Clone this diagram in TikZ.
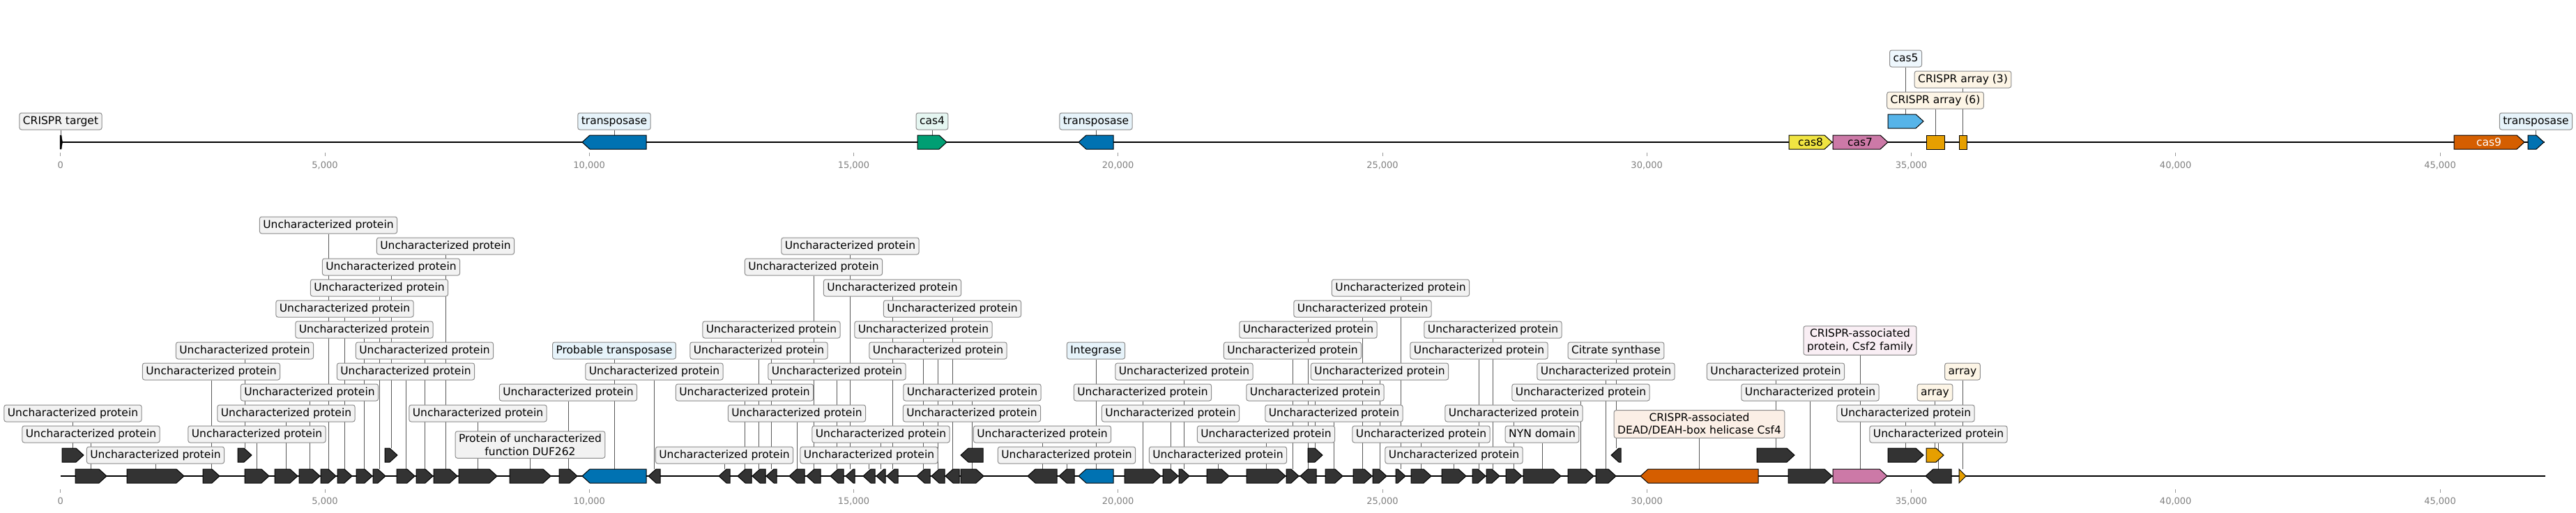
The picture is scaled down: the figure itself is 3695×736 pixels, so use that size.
\documentclass[tikz,border=0pt]{standalone}
\usepackage{fontspec}
\setmainfont{DejaVu Sans}
\usepackage{tikz}
\usetikzlibrary{backgrounds}
\definecolor{genedark}{HTML}{333333}
\definecolor{transblue}{HTML}{0072B2}
\definecolor{casgreen}{HTML}{009E73}
\definecolor{casyellow}{HTML}{F0E442}
\definecolor{caspink}{HTML}{CC79A7}
\definecolor{arrayorange}{HTML}{E69F00}
\definecolor{casred}{HTML}{D55E00}
\definecolor{cassky}{HTML}{56B4E9}
\definecolor{boxgrey}{HTML}{F2F2F2}
\definecolor{boxblue}{HTML}{E6F3FA}
\definecolor{boxgreen}{HTML}{E5F6F1}
\definecolor{boxsky}{HTML}{EEF7FD}
\definecolor{boxorange}{HTML}{FDF5E6}
\definecolor{boxred}{HTML}{FBEFE6}
\definecolor{boxpink}{HTML}{F9EEF4}
\newcommand{\headlen}{11}
\newcommand{\halfh}{10}
\newcommand{\lblfont}{\fontsize{15.5}{18.5}\selectfont}
\newcommand{\ticfont}{\fontsize{13}{15}\selectfont}
\newcommand{\fwdgene}[5]{%
\filldraw[gene, fill=#5] (#2,#4-\halfh) -- ({max(#2,#3-\headlen)},#4-\halfh) -- (#3,#4) -- ({max(#2,#3-\headlen)},#4+\halfh) -- (#2,#4+\halfh) -- cycle;
\coordinate (#1) at ({(#2+#3)/2},#4-\halfh);}
\newcommand{\revgene}[5]{%
\filldraw[gene, fill=#5] (#3,#4-\halfh) -- ({min(#3,#2+\headlen)},#4-\halfh) -- (#2,#4) -- ({min(#3,#2+\headlen)},#4+\halfh) -- (#3,#4+\halfh) -- cycle;
\coordinate (#1) at ({(#2+#3)/2},#4-\halfh);}
\newcommand{\rectgene}[5]{%
\filldraw[gene, fill=#5] (#2,#4-\halfh) rectangle (#3,#4+\halfh);
\coordinate (#1) at ({(#2+#3)/2},#4-\halfh);}
\tikzset{
gene/.style={draw=black, line width=1pt, line join=miter},
lblbase/.style={draw=black!45, fill=boxgrey, rounded corners=3pt, line width=1pt, inner xsep=5pt, minimum height=24pt, font=\lblfont},
lbl/.style={lblbase, inner ysep=3pt, text height=11.5pt, text depth=3.5pt},
lbltwo/.style={lblbase, inner ysep=4pt, align=center},
leader/.style={draw=black!65, line width=0.8pt},
track/.style={draw=black, line width=2.2pt},
tick/.style={draw=black!40, line width=0.8pt},
ticklbl/.style={font=\ticfont, text=black!50, inner sep=0pt}
}

\begin{document}
\begin{tikzpicture}[x=1pt,y=-1pt]
\useasboundingbox (0,0) rectangle (3695,736);
%top track
\filldraw[black] (86,194) -- (88,194) -- (89.5,204) -- (88,214) -- (86,214) -- cycle;
\coordinate (t0) at (87,194);
\revgene{t1}{835}{927}{204}{transblue}
\fwdgene{t2}{1316}{1358}{204}{casgreen}
\revgene{t3}{1547}{1597}{204}{transblue}
\fwdgene{t4}{2566}{2628}{204}{casyellow}
\fwdgene{t5}{2629}{2708}{204}{caspink}
\fwdgene{t6}{2708}{2759}{174}{cassky}
\rectgene{t7}{2763}{2789}{204}{arrayorange}
\rectgene{t8}{2810}{2821}{204}{arrayorange}
\fwdgene{t9}{3520}{3621}{204}{casred}
\fwdgene{t10}{3626}{3649}{204}{transblue}
\node[font=\lblfont] (c8) at (2597,204) {cas8};
\node[font=\lblfont] (c7) at (2668,204) {cas7};
\node[font=\lblfont, text=white] (c9) at (3570,204) {cas9};
\node[lbl] (lt0) at (t0 |- 0,174) {CRISPR target};
\node[lbl, fill=boxblue] (lt1) at (t1 |- 0,174) {transposase};
\node[lbl, fill=boxgreen] (lt2) at (t2 |- 0,174) {cas4};
\node[lbl, fill=boxblue] (lt3) at (t3 |- 0,174) {transposase};
\node[lbl, fill=boxsky] (lt6) at (t6 |- 0,84) {cas5};
\node[lbl, fill=boxorange] (lt7) at (t7 |- 0,144) {CRISPR array (6)};
\node[lbl, fill=boxorange] (lt8) at (t8 |- 0,114) {CRISPR array (3)};
\node[lbl, fill=boxblue] (lt10) at (t10 |- 0,174) {transposase};
%top ticks
\draw[tick] (86.7,219) -- (86.7,224);
\draw[tick] (466.0,219) -- (466.0,224);
\draw[tick] (845.2,219) -- (845.2,224);
\draw[tick] (1224.5,219) -- (1224.5,224);
\draw[tick] (1603.7,219) -- (1603.7,224);
\draw[tick] (1983.0,219) -- (1983.0,224);
\draw[tick] (2362.2,219) -- (2362.2,224);
\draw[tick] (2741.5,219) -- (2741.5,224);
\draw[tick] (3120.7,219) -- (3120.7,224);
\draw[tick] (3500.0,219) -- (3500.0,224);
\node[ticklbl] (tt0) at (86.7,237) {0};
\node[ticklbl] (tt1) at (466.0,237) {5,000};
\node[ticklbl] (tt2) at (845.2,237) {10,000};
\node[ticklbl] (tt3) at (1224.5,237) {15,000};
\node[ticklbl] (tt4) at (1603.7,237) {20,000};
\node[ticklbl] (tt5) at (1983.0,237) {25,000};
\node[ticklbl] (tt6) at (2362.2,237) {30,000};
\node[ticklbl] (tt7) at (2741.5,237) {35,000};
\node[ticklbl] (tt8) at (3120.7,237) {40,000};
\node[ticklbl] (tt9) at (3500.0,237) {45,000};
%bottom track
\fwdgene{b1}{89}{120}{653}{genedark}
\fwdgene{b2}{108}{153}{683}{genedark}
\fwdgene{b3}{182}{264}{683}{genedark}
\fwdgene{b4}{291}{315}{683}{genedark}
\fwdgene{b5}{341}{361}{653}{genedark}
\fwdgene{b6}{351}{386}{683}{genedark}
\fwdgene{b7}{394}{427}{683}{genedark}
\fwdgene{b8}{429}{459}{683}{genedark}
\fwdgene{b9}{460}{482}{683}{genedark}
\fwdgene{b10}{484}{505}{683}{genedark}
\fwdgene{b11}{511}{534}{683}{genedark}
\fwdgene{b12}{535}{553}{683}{genedark}
\fwdgene{b13}{552}{570}{653}{genedark}
\fwdgene{b14}{569}{595}{683}{genedark}
\fwdgene{b15}{597}{621}{683}{genedark}
\fwdgene{b16}{622}{656}{683}{genedark}
\fwdgene{b17}{658}{713}{683}{genedark}
\fwdgene{b18}{731}{790}{683}{genedark}
\fwdgene{b19}{802}{828}{683}{genedark}
\revgene{b20}{835}{927}{683}{transblue}
\revgene{b21}{930}{947}{683}{genedark}
\revgene{b22}{1031}{1047}{683}{genedark}
\revgene{b23}{1058}{1078}{683}{genedark}
\revgene{b24}{1079}{1098}{683}{genedark}
\revgene{b25}{1099}{1114}{683}{genedark}
\revgene{b26}{1132}{1154}{683}{genedark}
\revgene{b27}{1157}{1177}{683}{genedark}
\revgene{b28}{1191}{1210}{683}{genedark}
\revgene{b29}{1213}{1226}{683}{genedark}
\revgene{b30}{1238}{1255}{683}{genedark}
\revgene{b31}{1257}{1270}{683}{genedark}
\revgene{b32}{1272}{1288}{683}{genedark}
\revgene{b33}{1315}{1334}{683}{genedark}
\revgene{b34}{1336}{1355}{683}{genedark}
\revgene{b35}{1356}{1376}{683}{genedark}
\fwdgene{b36}{1378}{1411}{683}{genedark}
\revgene{b37}{1378}{1410}{653}{genedark}
\revgene{b38}{1474}{1516}{683}{genedark}
\revgene{b39}{1519}{1541}{683}{genedark}
\revgene{b40}{1547}{1597}{683}{transblue}
\fwdgene{b41}{1613}{1665}{683}{genedark}
\fwdgene{b42}{1668}{1690}{683}{genedark}
\fwdgene{b43}{1691}{1706}{683}{genedark}
\fwdgene{b44}{1731}{1763}{683}{genedark}
\fwdgene{b45}{1788}{1844}{683}{genedark}
\fwdgene{b46}{1845}{1863}{683}{genedark}
\revgene{b47}{1865}{1888}{683}{genedark}
\fwdgene{b48}{1876}{1897}{653}{genedark}
\fwdgene{b49}{1901}{1926}{683}{genedark}
\fwdgene{b50}{1941}{1968}{683}{genedark}
\fwdgene{b51}{1969}{1989}{683}{genedark}
\fwdgene{b52}{2002}{2016}{683}{genedark}
\fwdgene{b53}{2024}{2053}{683}{genedark}
\fwdgene{b54}{2068}{2103}{683}{genedark}
\fwdgene{b55}{2112}{2131}{683}{genedark}
\fwdgene{b56}{2132}{2151}{683}{genedark}
\fwdgene{b57}{2160}{2183}{683}{genedark}
\fwdgene{b58}{2185}{2239}{683}{genedark}
\fwdgene{b59}{2249}{2286}{683}{genedark}
\fwdgene{b60}{2289}{2318}{683}{genedark}
\revgene{b61}{2311}{2325}{653}{genedark}
\revgene{b62}{2353}{2522}{683}{casred}
\fwdgene{b63}{2520}{2574}{653}{genedark}
\fwdgene{b64}{2565}{2628}{683}{genedark}
\fwdgene{b65}{2629}{2707}{683}{caspink}
\fwdgene{b66}{2708}{2759}{653}{genedark}
\revgene{b67}{2762}{2799}{683}{genedark}
\fwdgene{b68}{2763}{2788}{653}{arrayorange}
\fwdgene{b69}{2810}{2820}{683}{arrayorange}
%bottom labels
\node[lbl] (lb1) at (b1 |- 0,593) {Uncharacterized protein};
\node[lbl] (lb2) at (b2 |- 0,623) {Uncharacterized protein};
\node[lbl] (lb3) at (b3 |- 0,653) {Uncharacterized protein};
\node[lbl] (lb4) at (b4 |- 0,533) {Uncharacterized protein};
\node[lbl] (lb5) at (b5 |- 0,503) {Uncharacterized protein};
\node[lbl] (lb6) at (b6 |- 0,623) {Uncharacterized protein};
\node[lbl] (lb7) at (b7 |- 0,593) {Uncharacterized protein};
\node[lbl] (lb8) at (b8 |- 0,563) {Uncharacterized protein};
\node[lbl] (lb9) at (b9 |- 0,323) {Uncharacterized protein};
\node[lbl] (lb10) at (b10 |- 0,443) {Uncharacterized protein};
\node[lbl] (lb11) at (b11 |- 0,473) {Uncharacterized protein};
\node[lbl] (lb12) at (b12 |- 0,413) {Uncharacterized protein};
\node[lbl] (lb13) at (b13 |- 0,383) {Uncharacterized protein};
\node[lbl] (lb14) at (b14 |- 0,533) {Uncharacterized protein};
\node[lbl] (lb15) at (b15 |- 0,503) {Uncharacterized protein};
\node[lbl] (lb16) at (b16 |- 0,353) {Uncharacterized protein};
\node[lbl] (lb17) at (b17 |- 0,593) {Uncharacterized protein};
\node[lbltwo] (lb18) at (b18 |- 0,638) {Protein of uncharacterized\\function DUF262};
\node[lbl] (lb19) at (b19 |- 0,563) {Uncharacterized protein};
\node[lbl, fill=boxblue] (lb20) at (b20 |- 0,503) {Probable transposase};
\node[lbl] (lb21) at (b21 |- 0,533) {Uncharacterized protein};
\node[lbl] (lb22) at (b22 |- 0,653) {Uncharacterized protein};
\node[lbl] (lb23) at (b23 |- 0,563) {Uncharacterized protein};
\node[lbl] (lb24) at (b24 |- 0,503) {Uncharacterized protein};
\node[lbl] (lb25) at (b25 |- 0,473) {Uncharacterized protein};
\node[lbl] (lb26) at (b26 |- 0,593) {Uncharacterized protein};
\node[lbl] (lb27) at (b27 |- 0,383) {Uncharacterized protein};
\node[lbl] (lb28) at (b28 |- 0,533) {Uncharacterized protein};
\node[lbl] (lb29) at (b29 |- 0,353) {Uncharacterized protein};
\node[lbl] (lb30) at (b30 |- 0,653) {Uncharacterized protein};
\node[lbl] (lb31) at (b31 |- 0,623) {Uncharacterized protein};
\node[lbl] (lb32) at (b32 |- 0,413) {Uncharacterized protein};
\node[lbl] (lb33) at (b33 |- 0,473) {Uncharacterized protein};
\node[lbl] (lb34) at (b34 |- 0,503) {Uncharacterized protein};
\node[lbl] (lb35) at (b35 |- 0,443) {Uncharacterized protein};
\node[lbl] (lb36) at (b36 |- 0,563) {Uncharacterized protein};
\node[lbl] (lb37) at (b37 |- 0,593) {Uncharacterized protein};
\node[lbl] (lb38) at (b38 |- 0,623) {Uncharacterized protein};
\node[lbl] (lb39) at (b39 |- 0,653) {Uncharacterized protein};
\node[lbl, fill=boxblue] (lb40) at (b40 |- 0,503) {Integrase};
\node[lbl] (lb41) at (b41 |- 0,563) {Uncharacterized protein};
\node[lbl] (lb42) at (b42 |- 0,593) {Uncharacterized protein};
\node[lbl] (lb43) at (b43 |- 0,533) {Uncharacterized protein};
\node[lbl] (lb44) at (b44 |- 0,653) {Uncharacterized protein};
\node[lbl] (lb45) at (b45 |- 0,623) {Uncharacterized protein};
\node[lbl] (lb46) at (b46 |- 0,503) {Uncharacterized protein};
\node[lbl] (lb47) at (b47 |- 0,473) {Uncharacterized protein};
\node[lbl] (lb48) at (b48 |- 0,563) {Uncharacterized protein};
\node[lbl] (lb49) at (b49 |- 0,593) {Uncharacterized protein};
\node[lbl] (lb50) at (b50 |- 0,443) {Uncharacterized protein};
\node[lbl] (lb51) at (b51 |- 0,533) {Uncharacterized protein};
\node[lbl] (lb52) at (b52 |- 0,413) {Uncharacterized protein};
\node[lbl] (lb53) at (b53 |- 0,623) {Uncharacterized protein};
\node[lbl] (lb54) at (b54 |- 0,653) {Uncharacterized protein};
\node[lbl] (lb55) at (b55 |- 0,503) {Uncharacterized protein};
\node[lbl] (lb56) at (b56 |- 0,473) {Uncharacterized protein};
\node[lbl] (lb57) at (b57 |- 0,593) {Uncharacterized protein};
\node[lbl] (lb58) at (b58 |- 0,623) {NYN domain};
\node[lbl] (lb59) at (b59 |- 0,563) {Uncharacterized protein};
\node[lbl] (lb60) at (b60 |- 0,533) {Uncharacterized protein};
\node[lbl] (lb61) at (b61 |- 0,503) {Citrate synthase};
\node[lbltwo, fill=boxred] (lb62) at (b62 |- 0,608.5) {CRISPR-associated\\DEAD/DEAH-box helicase Csf4};
\node[lbl] (lb63) at (b63 |- 0,533) {Uncharacterized protein};
\node[lbl] (lb64) at (b64 |- 0,563) {Uncharacterized protein};
\node[lbltwo, fill=boxpink] (lb65) at (b65 |- 0,488.5) {CRISPR-associated\\protein, Csf2 family};
\node[lbl] (lb66) at (b66 |- 0,593) {Uncharacterized protein};
\node[lbl] (lb67) at (b67 |- 0,623) {Uncharacterized protein};
\node[lbl, fill=boxorange] (lb68) at (b68 |- 0,563) {array};
\node[lbl, fill=boxorange] (lb69) at (b69 |- 0,533) {array};
%bottom ticks
\draw[tick] (86.7,702) -- (86.7,707);
\draw[tick] (466.0,702) -- (466.0,707);
\draw[tick] (845.2,702) -- (845.2,707);
\draw[tick] (1224.5,702) -- (1224.5,707);
\draw[tick] (1603.7,702) -- (1603.7,707);
\draw[tick] (1983.0,702) -- (1983.0,707);
\draw[tick] (2362.2,702) -- (2362.2,707);
\draw[tick] (2741.5,702) -- (2741.5,707);
\draw[tick] (3120.7,702) -- (3120.7,707);
\draw[tick] (3500.0,702) -- (3500.0,707);
\node[ticklbl] (bt0) at (86.7,719) {0};
\node[ticklbl] (bt1) at (466.0,719) {5,000};
\node[ticklbl] (bt2) at (845.2,719) {10,000};
\node[ticklbl] (bt3) at (1224.5,719) {15,000};
\node[ticklbl] (bt4) at (1603.7,719) {20,000};
\node[ticklbl] (bt5) at (1983.0,719) {25,000};
\node[ticklbl] (bt6) at (2362.2,719) {30,000};
\node[ticklbl] (bt7) at (2741.5,719) {35,000};
\node[ticklbl] (bt8) at (3120.7,719) {40,000};
\node[ticklbl] (bt9) at (3500.0,719) {45,000};
%lines and leaders
\begin{scope}[on background layer]
\coordinate (ts) at (87,204);
\coordinate (te) at (3650,204);
\coordinate (bs) at (87,683);
\coordinate (be) at (3651,683);
\draw[track] (ts) -- (te);
\draw[track] (bs) -- (be);
\draw[leader] (lt0) -- (t0);
\draw[leader] (lt1) -- (t1);
\draw[leader] (lt2) -- (t2);
\draw[leader] (lt3) -- (t3);
\draw[leader] (lt6) -- (t6);
\draw[leader] (lt7) -- (t7);
\draw[leader] (lt8) -- (t8);
\draw[leader] (lt10) -- (t10);
\draw[leader] (lb1) -- (b1);
\draw[leader] (lb2) -- (b2);
\draw[leader] (lb3) -- (b3);
\draw[leader] (lb4) -- (b4);
\draw[leader] (lb5) -- (b5);
\draw[leader] (lb6) -- (b6);
\draw[leader] (lb7) -- (b7);
\draw[leader] (lb8) -- (b8);
\draw[leader] (lb9) -- (b9);
\draw[leader] (lb10) -- (b10);
\draw[leader] (lb11) -- (b11);
\draw[leader] (lb12) -- (b12);
\draw[leader] (lb13) -- (b13);
\draw[leader] (lb14) -- (b14);
\draw[leader] (lb15) -- (b15);
\draw[leader] (lb16) -- (b16);
\draw[leader] (lb17) -- (b17);
\draw[leader] (lb18) -- (b18);
\draw[leader] (lb19) -- (b19);
\draw[leader] (lb20) -- (b20);
\draw[leader] (lb21) -- (b21);
\draw[leader] (lb22) -- (b22);
\draw[leader] (lb23) -- (b23);
\draw[leader] (lb24) -- (b24);
\draw[leader] (lb25) -- (b25);
\draw[leader] (lb26) -- (b26);
\draw[leader] (lb27) -- (b27);
\draw[leader] (lb28) -- (b28);
\draw[leader] (lb29) -- (b29);
\draw[leader] (lb30) -- (b30);
\draw[leader] (lb31) -- (b31);
\draw[leader] (lb32) -- (b32);
\draw[leader] (lb33) -- (b33);
\draw[leader] (lb34) -- (b34);
\draw[leader] (lb35) -- (b35);
\draw[leader] (lb36) -- (b36);
\draw[leader] (lb37) -- (b37);
\draw[leader] (lb38) -- (b38);
\draw[leader] (lb39) -- (b39);
\draw[leader] (lb40) -- (b40);
\draw[leader] (lb41) -- (b41);
\draw[leader] (lb42) -- (b42);
\draw[leader] (lb43) -- (b43);
\draw[leader] (lb44) -- (b44);
\draw[leader] (lb45) -- (b45);
\draw[leader] (lb46) -- (b46);
\draw[leader] (lb47) -- (b47);
\draw[leader] (lb48) -- (b48);
\draw[leader] (lb49) -- (b49);
\draw[leader] (lb50) -- (b50);
\draw[leader] (lb51) -- (b51);
\draw[leader] (lb52) -- (b52);
\draw[leader] (lb53) -- (b53);
\draw[leader] (lb54) -- (b54);
\draw[leader] (lb55) -- (b55);
\draw[leader] (lb56) -- (b56);
\draw[leader] (lb57) -- (b57);
\draw[leader] (lb58) -- (b58);
\draw[leader] (lb59) -- (b59);
\draw[leader] (lb60) -- (b60);
\draw[leader] (lb61) -- (b61);
\draw[leader] (lb62) -- (b62);
\draw[leader] (lb63) -- (b63);
\draw[leader] (lb64) -- (b64);
\draw[leader] (lb65) -- (b65);
\draw[leader] (lb66) -- (b66);
\draw[leader] (lb67) -- (b67);
\draw[leader] (lb68) -- (b68);
\draw[leader] (lb69) -- (b69);
\end{scope}
\end{tikzpicture}
\end{document}
